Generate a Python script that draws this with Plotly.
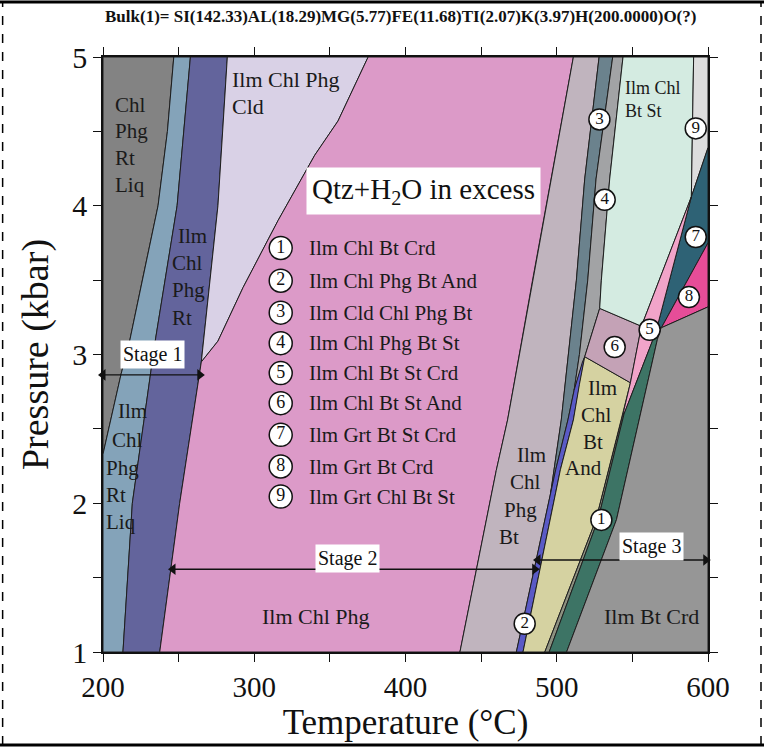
import plotly.graph_objects as go

# ---------------- boundary lines (T in °C, P in kbar) ----------------
L1_T = [246.8, 242.6, 236.4, 226.0, 217.2, 212.0, 206.6, 200.0]
L1_P = [5.0, 4.5, 4.0, 3.5, 3.07, 2.87, 2.62, 2.33]
L2_T = [257.8, 249.0, 234.2, 219.4, 213.2]
L2_P = [5.0, 4.0, 3.07, 2.0, 1.0]
L3_T = [282.2, 276.0, 265.0, 250.7, 237.5]
L3_P = [5.0, 4.0, 2.95, 2.0, 1.0]
L4_T = [375.3, 355.4, 340.0, 315.7, 292.6, 276.0, 265.0]
L4_P = [5.0, 4.57, 4.34, 3.9, 3.45, 3.09, 2.95]
L5_T = [511.0, 484.0, 467.5, 460.0, 436.0]
L5_P = [5.0, 3.5, 2.56, 2.22, 1.0]
A_T = [528.0, 518.5, 513.0, 503.0, 496.0]
A_P = [5.0, 4.18, 3.5, 2.56, 2.07]
B_T = [537.0, 526.0, 520.5, 515.0, 511.5]
B_P = [5.0, 4.18, 3.5, 3.0, 2.76]
C_T = [543.8, 535.0, 529.5, 528.4, 518.5]
C_P = [5.0, 4.18, 3.5, 3.31, 2.985]
BL_T = [518.5, 517.0, 511.5, 507.4, 499.3, 496.0, 473.3]
BL_P = [2.985, 2.95, 2.76, 2.56, 2.225, 2.07, 1.0]
BR_T = [518.5, 515.0, 511.0, 502.4, 477.7]
BR_P = [2.985, 2.8, 2.56, 2.225, 1.0]
YR_T = [548.7, 543.8, 526.0, 492.1]
YR_P = [2.81, 2.6, 1.89, 1.0]
GL_T = [566.0, 563.6, 544.5, 527.3, 495.0]
GL_P = [3.17, 3.1, 2.6, 1.89, 1.0]
GR_T = [569.0, 566.5, 539.5, 506.5]
GR_P = [3.18, 3.1, 1.89, 1.0]
MR_T = [590.5, 589.0, 556.0]
MR_P = [5.0, 4.06, 3.19]
J8_T, J8_P = 569.2, 3.18              # tip of field 8
EDGE_P = [4.39, 3.75, 3.32]           # boundaries reaching T = 600

TMIN, TMAX, PMIN, PMAX = 200, 600, 1, 5

# ---------------- ticks & labels ----------------
x_ticks = [200, 300, 400, 500, 600]
x_minor = [250, 350, 450, 550]
y_ticks = [1, 2, 3, 4, 5]
y_minor = [1.5, 2.5, 3.5, 4.5]

legend_nums = ["1", "2", "3", "4", "5", "6", "7", "8", "9"]
legend_txt = ["Ilm Chl Bt Crd", "Ilm Chl Phg Bt And", "Ilm Cld Chl Phg Bt",
              "Ilm Chl Phg Bt St", "Ilm Chl Bt St Crd", "Ilm Chl Bt St And",
              "Ilm Grt Bt St Crd", "Ilm Grt Bt Crd", "Ilm Grt Chl Bt St"]
legend_P = [3.716, 3.496, 3.281, 3.076, 2.875, 2.673, 2.460, 2.247, 2.045]
legend_circle_T = 317.5
legend_label_T = 335.0

field_nums = ["1", "2", "3", "4", "5", "6", "7", "8", "9"]
field_T = [529.5, 478.8, 528.2, 531.7, 561.4, 538.3, 591.9, 587.4, 591.9]
field_P = [1.888, 1.19, 4.58, 4.04, 3.166, 3.05, 3.79, 3.386, 4.52]

# (text, T, P, xanchor, size)
field_labels = [
    ("Chl", 206.6, 4.680, "left", 21), ("Phg", 206.6, 4.501, "left", 21),
    ("Rt", 206.6, 4.322, "left", 21), ("Liq", 206.6, 4.142, "left", 21),
    ("Ilm Chl Phg", 284.2, 4.849, "left", 22), ("Cld", 284.2, 4.669, "left", 22),
    ("Ilm", 248.5, 3.794, "left", 21), ("Chl", 244.1, 3.615, "left", 21),
    ("Phg", 244.1, 3.436, "left", 21), ("Rt", 244.1, 3.245, "left", 21),
    ("Ilm", 208.4, 2.617, "left", 21), ("Chl", 204.4, 2.426, "left", 21),
    ("Phg", 200.5, 2.238, "left", 21), ("Rt", 200.5, 2.056, "left", 21),
    ("Liq", 200.5, 1.877, "left", 21),
    ("Ilm Chl Phg", 341.1, 1.237, "center", 22),
    ("Ilm", 472.2, 2.325, "left", 21), ("Chl", 467.6, 2.146, "left", 21),
    ("Phg", 464.1, 1.955, "left", 21), ("Bt", 460.3, 1.776, "left", 21),
    ("Ilm", 519.6, 2.774, "left", 21), ("Chl", 514.5, 2.595, "left", 21),
    ("Bt", 515.8, 2.415, "left", 21), ("And", 503.9, 2.236, "left", 21),
    ("Ilm Chl<br>Bt St", 543.6, 4.712, "left", 18),
    ("Ilm Bt Crd", 562.6, 1.237, "center", 22),
]

stages = ["Stage 1", "Stage 2", "Stage 3"]
stage_label_T = [232.5, 361.5, 562.6]
stage_label_P = [2.998, 1.63, 1.708]
stage_from_T = [200.0, 246.3, 487.6]
stage_to_T = [264.0, 485.4, 598.5]
stage_arrow_P = [2.863, 1.556, 1.618]


def pts(Ts, Ps, idx):
    return [(Ts[i], Ps[i]) for i in idx]


L1 = lambda idx: pts(L1_T, L1_P, idx)
L2 = lambda idx: pts(L2_T, L2_P, idx)
L3 = lambda idx: pts(L3_T, L3_P, idx)
L4 = lambda idx: pts(L4_T, L4_P, idx)
L5 = lambda idx: pts(L5_T, L5_P, idx)
A = lambda idx: pts(A_T, A_P, idx)
B = lambda idx: pts(B_T, B_P, idx)
C = lambda idx: pts(C_T, C_P, idx)
BL = lambda idx: pts(BL_T, BL_P, idx)
BR = lambda idx: pts(BR_T, BR_P, idx)
YR = lambda idx: pts(YR_T, YR_P, idx)
GL = lambda idx: pts(GL_T, GL_P, idx)
GR = lambda idx: pts(GR_T, GR_P, idx)
MR = lambda idx: pts(MR_T, MR_P, idx)
J8 = [(J8_T, J8_P)]

polygons = [
    ("#838383", [(TMIN, PMAX)] + L1(range(8))),
    ("#84a3b9", L1(range(8)) + [(TMIN, PMIN)] + L2(range(4, -1, -1))),
    ("#63649c", L2(range(5)) + L3(range(4, -1, -1))),
    ("#d9d1e6", L3(range(3)) + L4(range(6, -1, -1))),
    ("#dc9ac8", L4(range(7)) + L3(range(2, 5)) + L5(range(4, -1, -1))),
    ("#c0b4be", L5(range(5)) + BL([6, 5]) + A(range(4, -1, -1))),
    ("#6b828d", A(range(5)) + BL([4, 3, 2]) + B(range(4, -1, -1))),
    ("#a2a3a5", B(range(5)) + BL([1, 0]) + C([3, 2, 1, 0])),
    ("#5a5ac6", BL(range(7)) + BR(range(4, -1, -1))),
    ("#d5d2a1", BR(range(5)) + YR([3, 2, 1, 0])),
    ("#c4a2b6", C([3]) + MR([2]) + YR([0]) + C([4])),
    ("#d4ebe1", C([0, 1, 2, 3]) + MR([2, 1, 0])),
    ("#dddddd", MR([0]) + [(TMAX, PMAX), (TMAX, EDGE_P[0])] + MR([1])),
    ("#2e6275", MR([1]) + [(TMAX, EDGE_P[0]), (TMAX, EDGE_P[1])] + J8 + GL([0])),
    ("#e64d98", J8 + [(TMAX, EDGE_P[1]), (TMAX, EDGE_P[2])]),
    ("#f1a4c9", MR([1]) + GL([0, 1, 2]) + YR([1, 0]) + MR([2])),
    ("#8d9180", YR([1, 2, 3]) + GL([4, 3, 2])),
    ("#3d7465", GL(range(5)) + GR([3, 2, 1, 0])),
    ("#969696", J8 + [(TMAX, EDGE_P[2]), (TMAX, PMIN)] + GR([3, 2, 1, 0])),
]

fig = go.Figure()
for color, poly in polygons:
    xs = [p[0] for p in poly] + [poly[0][0]]
    ys = [p[1] for p in poly] + [poly[0][1]]
    fig.add_trace(go.Scatter(x=xs, y=ys, mode="lines", fill="toself",
                             fillcolor=color,
                             line=dict(color="#1e1e1e", width=1),
                             hoverinfo="skip", showlegend=False))

SERIF = "Liberation Serif, Times New Roman, serif"

# stage arrows (double headed)
for t0, t1, ap in zip(stage_from_T, stage_to_T, stage_arrow_P):
    fig.add_trace(go.Scatter(
        x=[t0, t1], y=[ap, ap], mode="lines+markers",
        line=dict(color="#111", width=1.4),
        marker=dict(symbol=["triangle-left", "triangle-right"], size=10,
                    color="#111", line=dict(width=0)),
        cliponaxis=False, hoverinfo="skip", showlegend=False))

# circled numbers on the diagram
fig.add_trace(go.Scatter(
    x=field_T, y=field_P, mode="markers+text", text=field_nums,
    textposition="middle center",
    textfont=dict(family=SERIF, size=17, color="#111"),
    marker=dict(size=21, color="white", line=dict(color="#111", width=1.5)),
    hoverinfo="skip", showlegend=False))

# circled numbers in the list
fig.add_trace(go.Scatter(
    x=[legend_circle_T] * len(legend_nums), y=legend_P, mode="markers+text",
    text=legend_nums, textposition="middle center",
    textfont=dict(family=SERIF, size=18, color="#111"),
    marker=dict(size=23, color="white", line=dict(color="#111", width=1.5)),
    hoverinfo="skip", showlegend=False))

ann = []
for txt, t, p in zip(legend_txt, [legend_label_T] * 9, legend_P):
    ann.append(dict(x=t, y=p, xref="x", yref="y", text=txt, showarrow=False,
                    xanchor="left", yanchor="middle",
                    font=dict(family=SERIF, size=21, color="#1a1a1a")))

for txt, t, p, xa, sz in field_labels:
    ann.append(dict(x=t, y=p, xref="x", yref="y", text=txt, showarrow=False,
                    xanchor=xa, yanchor="middle", align="left",
                    font=dict(family=SERIF, size=sz, color="#1a1a1a")))

ann.append(dict(x=411.6, y=4.099, xref="x", yref="y",
                text="Qtz+H<sub>2</sub>O in excess", showarrow=False,
                bgcolor="white", borderpad=5,
                font=dict(family=SERIF, size=29, color="#111")))

for s, lt, lp in zip(stages, stage_label_T, stage_label_P):
    ann.append(dict(x=lt, y=lp, xref="x", yref="y", text=s, showarrow=False,
                    bgcolor="white", borderpad=2,
                    font=dict(family=SERIF, size=20, color="#111")))

ann.append(dict(x=0.0, y=1.068, xref="paper", yref="paper",
                text="<b>Bulk(1)= SI(142.33)AL(18.29)MG(5.77)FE(11.68)TI(2.07)K(3.97)H(200.0000)O(?)</b>",
                showarrow=False, xanchor="left", yanchor="middle",
                font=dict(family=SERIF, size=17, color="#111")))

shapes = [
    dict(type="line", xref="paper", yref="paper", x0=-0.171, x1=1.093,
         y0=1.0925, y1=1.0925, line=dict(color="black", width=3)),
    dict(type="line", xref="paper", yref="paper", x0=-0.171, x1=1.093,
         y0=-0.1564, y1=-0.1564, line=dict(color="black", width=3)),
    dict(type="line", xref="paper", yref="paper", x0=-0.1659, x1=-0.1659,
         y0=-0.1564, y1=1.0925, line=dict(color="black", width=1.5, dash="dash")),
    dict(type="line", xref="paper", yref="paper", x0=1.0876, x1=1.0876,
         y0=-0.1564, y1=1.0925, line=dict(color="black", width=1.5, dash="dash")),
]

fig.update_layout(
    width=764, height=747,
    margin=dict(l=103, r=56, t=57, b=95),
    paper_bgcolor="white", plot_bgcolor="white",
    annotations=ann, shapes=shapes, showlegend=False,
    xaxis=dict(range=[TMIN, TMAX], tickmode="array", tickvals=x_ticks,
               ticks="outside", ticklen=8, tickwidth=1.2, tickcolor="#111",
               minor=dict(tickmode="array", tickvals=x_minor, ticks="outside",
                          ticklen=8, tickwidth=1.2, tickcolor="#111",
                          showgrid=False),
               showline=True, linecolor="#111", linewidth=1.5,
               mirror="allticks", showgrid=False, zeroline=False,
               tickfont=dict(family=SERIF, size=29, color="#111"),
               title=dict(text="Temperature (°C)", standoff=2,
                          font=dict(family=SERIF, size=35, color="#111"))),
    yaxis=dict(range=[PMIN, PMAX], tickmode="array", tickvals=y_ticks,
               ticks="outside", ticklen=8, tickwidth=1.2, tickcolor="#111",
               minor=dict(tickmode="array", tickvals=y_minor, ticks="outside",
                          ticklen=8, tickwidth=1.2, tickcolor="#111",
                          showgrid=False),
               showline=True, linecolor="#111", linewidth=1.5,
               mirror="allticks", showgrid=False, zeroline=False,
               tickfont=dict(family=SERIF, size=30, color="#111"),
               title=dict(text="Pressure (kbar)", standoff=12,
                          font=dict(family=SERIF, size=38, color="#111"))),
)

fig.write_html("out.html")
